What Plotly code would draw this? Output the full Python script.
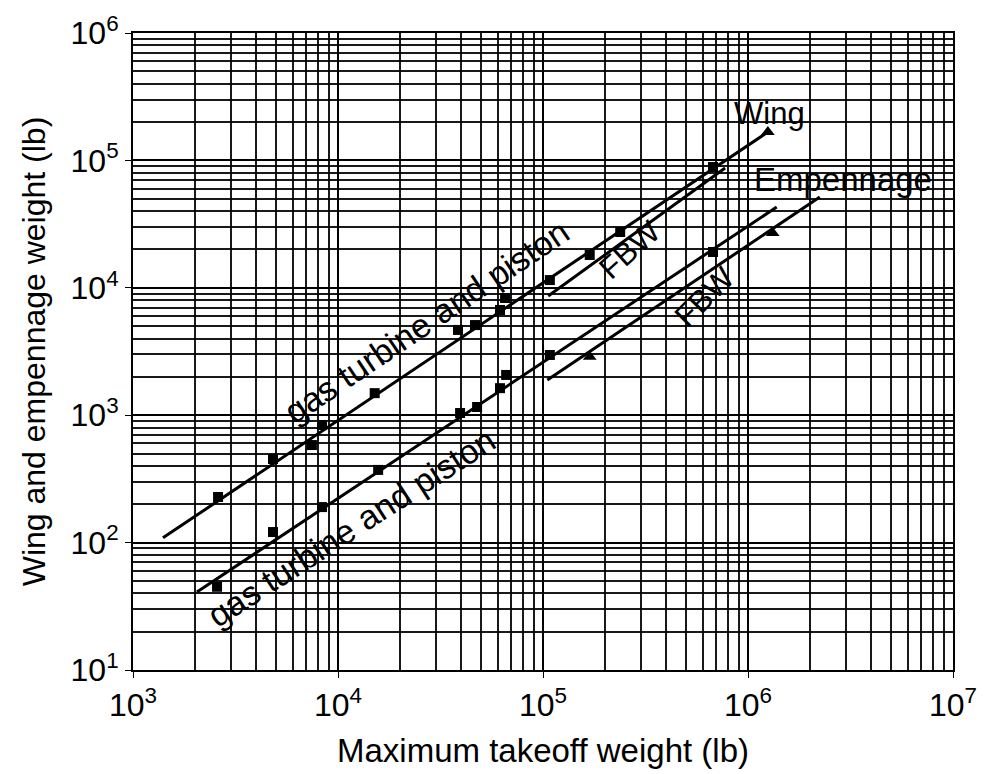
import plotly.graph_objects as go
import math

# ---------------- data ----------------
wing_line_x = [1400, 1.25e6]
wing_line_y = [109, 1.67e5]
wing_pts_x = [2600, 4820, 7460, 8360, 15100, 38500, 46600, 61700, 65300, 108000, 169000, 238000, 675000]
wing_pts_y = [228, 453, 583, 837, 1490, 4670, 5100, 6700, 8320, 11500, 18100, 27400, 88700]

emp_line_x = [2050, 1.38e6]
emp_line_y = [40.9, 43000]
emp_pts_x = [2570, 4820, 8360, 15700, 39400, 47700, 61700, 66100, 108000, 675000]
emp_pts_y = [45, 121, 190, 372, 1040, 1160, 1630, 2070, 2970, 19100]

fbw_wing_line_x = [106000, 773000]
fbw_wing_line_y = [8630, 87100]
fbw_emp_line_x = [105000, 2.24e6]
fbw_emp_line_y = [1890, 51600]
fbw_emp_pts_x = [169000]
fbw_emp_pts_y = [2870]

tri_x = [1.25e6, 1.32e6]
tri_y = [1.67e5, 26900]

x_tickvals = [1e3, 1e4, 1e5, 1e6, 1e7]
x_ticktext = ["10<sup>3</sup>", "10<sup>4</sup>", "10<sup>5</sup>", "10<sup>6</sup>", "10<sup>7</sup>"]
y_tickvals = [1e1, 1e2, 1e3, 1e4, 1e5, 1e6]
y_ticktext = ["10<sup>1</sup>", "10<sup>2</sup>", "10<sup>3</sup>", "10<sup>4</sup>", "10<sup>5</sup>", "10<sup>6</sup>"]

FONT = "Liberation Sans, Arial, sans-serif"
LINE = dict(color="black", width=3)

fig = go.Figure()
for lx, ly in [(wing_line_x, wing_line_y), (emp_line_x, emp_line_y),
               (fbw_wing_line_x, fbw_wing_line_y), (fbw_emp_line_x, fbw_emp_line_y)]:
    fig.add_trace(go.Scatter(x=lx, y=ly, mode="lines", line=LINE, showlegend=False, hoverinfo="skip"))

fig.add_trace(go.Scatter(x=wing_pts_x, y=wing_pts_y, mode="markers",
                         marker=dict(symbol="square", size=10, color="black"), showlegend=False))
fig.add_trace(go.Scatter(x=emp_pts_x, y=emp_pts_y, mode="markers",
                         marker=dict(symbol="square", size=10, color="black"), showlegend=False))
fig.add_trace(go.Scatter(x=fbw_emp_pts_x, y=fbw_emp_pts_y, mode="markers",
                         marker=dict(symbol="triangle-up", size=12, color="black"), showlegend=False))
fig.add_trace(go.Scatter(x=tri_x, y=tri_y, mode="markers",
                         marker=dict(symbol="triangle-up", size=12, color="black"), showlegend=False))

def label(text, lx, ly, angle, size=28):
    fig.add_annotation(x=math.log10(lx), y=math.log10(ly), xref="x", yref="y", text=text,
                       showarrow=False, textangle=angle,
                       font=dict(family=FONT, size=size, color="black"))

label("Wing", 10**6.107, 10**5.37, 0, 31)
label("Empennage", 10**6.463, 10**4.85, 0, 33)
label("gas turbine and piston", 10**4.434, 10**3.74, -34, 34)
label("gas turbine and piston", 10**4.068, 10**2.12, -33, 34)
label("FBW", 10**5.424, 10**4.30, -42, 31)
label("FBW", 10**5.790, 10**3.93, -45, 31)

axis_common = dict(
    type="log", showgrid=True, gridcolor="black", gridwidth=2,
    showline=True, linecolor="black", linewidth=2, mirror=True,
    ticks="outside", ticklen=6, tickcolor="black", zeroline=False,
    tickfont=dict(family=FONT, size=32, color="black"),
    minor=dict(dtick="D1", showgrid=True, gridcolor="rgba(0,0,0,0.9)", gridwidth=1.8, ticks=""),
)

fig.update_layout(
    width=991, height=774,
    margin=dict(l=125, r=46, t=25, b=112, autoexpand=False),
    paper_bgcolor="white", plot_bgcolor="white",
    font=dict(family=FONT, color="black"),
    xaxis=dict(axis_common, range=[3, 7], tickvals=x_tickvals, ticktext=x_ticktext, automargin=False,
               title=dict(text="Maximum takeoff weight (lb)", font=dict(family=FONT, size=33), standoff=16)),
    yaxis=dict(axis_common, range=[1, 6], tickvals=y_tickvals, ticktext=y_ticktext, automargin=False,
               title=dict(text="Wing and empennage weight (lb)", font=dict(family=FONT, size=32), standoff=15)),
)

fig.write_html("out.html")
